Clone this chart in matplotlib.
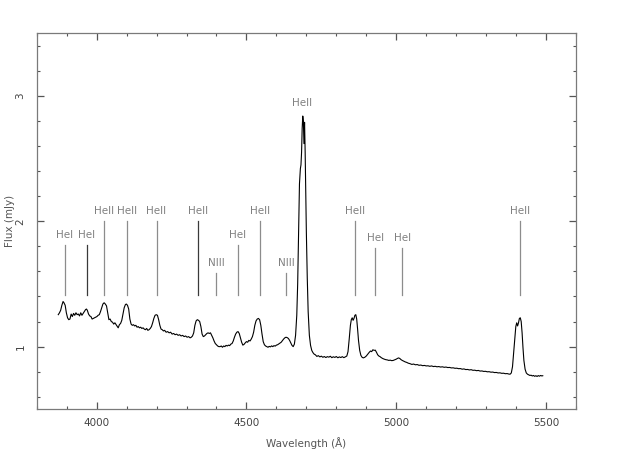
import numpy as np
import matplotlib.pyplot as plt
from matplotlib.ticker import MultipleLocator

# spectrum (wavelength in Angstrom, flux in mJy)
wave = [3872, 3876, 3880, 3884, 3888, 3891, 3895, 3899, 3903, 3907, 3911, 3915, 3919, 3923,
        3927, 3931, 3935, 3939, 3943, 3947, 3951, 3955, 3959, 3963, 3966, 3969, 3973, 3977,
        3981, 3985, 3989, 3993, 3997, 4001, 4005, 4009, 4013, 4017, 4021, 4025, 4029, 4033,
        4037, 4041, 4045, 4049, 4053, 4057, 4061, 4065, 4069, 4072, 4076, 4080, 4084, 4088,
        4092, 4096, 4099, 4103, 4107, 4111, 4115, 4119, 4123, 4127, 4131, 4135, 4139, 4143,
        4147, 4151, 4155, 4159, 4163, 4167, 4171, 4175, 4179, 4183, 4187, 4191, 4195, 4199,
        4203, 4207, 4211, 4215, 4219, 4223, 4227, 4232, 4237, 4242, 4247, 4252, 4257, 4262,
        4267, 4272, 4277, 4282, 4287, 4292, 4297, 4302, 4307, 4312, 4316, 4320, 4324, 4328,
        4332, 4336, 4340, 4344, 4348, 4352, 4356, 4360, 4364, 4368, 4372, 4376, 4380, 4384,
        4388, 4392, 4396, 4400, 4404, 4408, 4412, 4416, 4420, 4424, 4428, 4432, 4436, 4440,
        4444, 4448, 4452, 4456, 4460, 4464, 4468, 4472, 4476, 4480, 4484, 4488, 4492, 4496,
        4500, 4504, 4508, 4512, 4516, 4520, 4524, 4528, 4532, 4536, 4540, 4544, 4548, 4552,
        4556, 4560, 4564, 4568, 4572, 4576, 4580, 4584, 4588, 4592, 4596, 4600, 4604, 4608,
        4612, 4616, 4620, 4624, 4628, 4632, 4636, 4640, 4644, 4648, 4652, 4656, 4660, 4664,
        4668, 4671, 4674, 4677, 4680, 4682, 4684, 4686, 4688, 4690, 4692, 4694, 4696, 4698,
        4700, 4703, 4706, 4710, 4714, 4718, 4722, 4726, 4730, 4735, 4740, 4745, 4750, 4755,
        4760, 4765, 4770, 4775, 4780, 4785, 4790, 4795, 4800, 4805, 4810, 4815, 4820, 4825,
        4830, 4835, 4839, 4843, 4847, 4850, 4853, 4856, 4859, 4862, 4865, 4868, 4871, 4874,
        4878, 4882, 4886, 4890, 4895, 4900, 4905, 4910, 4914, 4918, 4922, 4926, 4930, 4934,
        4938, 4942, 4946, 4950, 4955, 4960, 4965, 4970, 4975, 4980, 4985, 4990, 4995, 5000,
        5004, 5008, 5012, 5016, 5020, 5025, 5030, 5035, 5040, 5046, 5052, 5058, 5064, 5070,
        5076, 5082, 5088, 5094, 5100, 5106, 5112, 5118, 5124, 5130, 5136, 5142, 5148, 5154,
        5160, 5166, 5172, 5178, 5184, 5190, 5196, 5202, 5208, 5214, 5220, 5226, 5232, 5238,
        5244, 5250, 5256, 5262, 5268, 5274, 5280, 5286, 5292, 5298, 5304, 5310, 5316, 5322,
        5328, 5334, 5340, 5346, 5352, 5358, 5364, 5370, 5376, 5380, 5384, 5388, 5392, 5396,
        5399, 5402, 5405, 5408, 5411, 5414, 5417, 5420, 5423, 5426, 5430, 5434, 5438, 5442,
        5446, 5450, 5454, 5458, 5462, 5466, 5470, 5474, 5478, 5482, 5486, 5489]
flux = [1.255, 1.27, 1.29, 1.33, 1.36, 1.35, 1.33, 1.27, 1.23, 1.215, 1.22, 1.26, 1.24, 1.265,
        1.25, 1.27, 1.255, 1.26, 1.245, 1.27, 1.25, 1.265, 1.28, 1.295, 1.30, 1.29, 1.26, 1.245,
        1.24, 1.22, 1.225, 1.23, 1.235, 1.24, 1.25, 1.255, 1.28, 1.31, 1.34, 1.35, 1.34, 1.325,
        1.27, 1.215, 1.22, 1.20, 1.195, 1.18, 1.19, 1.175, 1.16, 1.15, 1.175, 1.185, 1.21, 1.26,
        1.31, 1.335, 1.34, 1.33, 1.30, 1.22, 1.18, 1.17, 1.175, 1.165, 1.17, 1.155, 1.16, 1.15,
        1.155, 1.145, 1.15, 1.14, 1.135, 1.145, 1.13, 1.135, 1.145, 1.16, 1.19, 1.225, 1.25, 1.255,
        1.25, 1.215, 1.17, 1.14, 1.135, 1.125, 1.13, 1.115, 1.12, 1.11, 1.115, 1.10, 1.105, 1.095,
        1.10, 1.09, 1.095, 1.085, 1.09, 1.08, 1.085, 1.075, 1.08, 1.07, 1.075, 1.085, 1.11, 1.17,
        1.205, 1.215, 1.21, 1.20, 1.16, 1.10, 1.08, 1.085, 1.095, 1.105, 1.11, 1.105, 1.11, 1.09,
        1.07, 1.045, 1.025, 1.015, 1.005, 1.0, 1.0, 1.005, 0.995, 1.005, 1.0, 1.01, 1.005, 1.012,
        1.008, 1.02, 1.025, 1.045, 1.075, 1.10, 1.115, 1.12, 1.105, 1.07, 1.035, 1.012, 1.018, 1.03,
        1.04, 1.035, 1.05, 1.045, 1.06, 1.08, 1.115, 1.17, 1.205, 1.22, 1.225, 1.215, 1.17, 1.10,
        1.04, 1.015, 1.005, 1.0, 0.995, 1.002, 0.998, 1.006, 1.0, 1.008, 1.004, 1.012, 1.015, 1.022,
        1.03, 1.035, 1.048, 1.06, 1.07, 1.075, 1.072, 1.065, 1.05, 1.03, 1.01, 1.0, 1.02, 1.09,
        1.25, 1.50, 1.90, 2.30, 2.42, 2.45, 2.55, 2.74, 2.84, 2.80, 2.62, 2.79, 2.55, 2.20,
        1.91, 1.55, 1.28, 1.09, 1.01, 0.97, 0.952, 0.94, 0.935, 0.922, 0.928, 0.918, 0.924, 0.915,
        0.921, 0.913, 0.92, 0.916, 0.923, 0.912, 0.919, 0.914, 0.921, 0.911, 0.918, 0.913, 0.92, 0.912,
        0.918, 0.925, 0.96, 1.06, 1.17, 1.215, 1.23, 1.21, 1.225, 1.25, 1.255, 1.22, 1.14, 1.05,
        0.97, 0.93, 0.915, 0.91, 0.915, 0.925, 0.94, 0.955, 0.965, 0.96, 0.975, 0.97, 0.972, 0.955,
        0.935, 0.925, 0.92, 0.912, 0.905, 0.9, 0.896, 0.894, 0.89, 0.892, 0.888, 0.89, 0.895, 0.90,
        0.906, 0.91, 0.905, 0.896, 0.89, 0.884, 0.878, 0.874, 0.868, 0.864, 0.858, 0.861, 0.855, 0.857,
        0.851, 0.853, 0.848, 0.85, 0.846, 0.847, 0.843, 0.846, 0.841, 0.843, 0.839, 0.841, 0.837, 0.839,
        0.835, 0.837, 0.833, 0.834, 0.83, 0.831, 0.827, 0.828, 0.824, 0.825, 0.82, 0.822, 0.817, 0.818,
        0.814, 0.816, 0.811, 0.812, 0.808, 0.81, 0.805, 0.806, 0.802, 0.803, 0.799, 0.8, 0.796, 0.797,
        0.793, 0.794, 0.79, 0.791, 0.787, 0.788, 0.784, 0.785, 0.781, 0.78, 0.79, 0.84, 0.96, 1.09,
        1.16, 1.19, 1.165, 1.19, 1.225, 1.23, 1.20, 1.11, 0.99, 0.89, 0.82, 0.79, 0.78, 0.775,
        0.77, 0.772, 0.766, 0.77, 0.763, 0.768, 0.762, 0.769, 0.764, 0.77, 0.766, 0.768]

# line identifications
line_names = ["HeI", "HeI", "HeII", "HeII", "HeII", "HeII", "NIII", "HeI", "HeII", "NIII",
              "HeII", "HeI", "HeI", "HeII"]
line_waves = [3893, 3968, 4026, 4100, 4200, 4340, 4400, 4471, 4544, 4632, 4861, 4930, 5020, 5413]
line_tops = [1.81, 1.81, 2.0, 2.0, 2.0, 2.0, 1.59, 1.81, 2.0, 1.59, 2.0, 1.79, 1.79, 2.0]
peak_name, peak_wave, peak_label_y = "HeII", 4686, 2.94

fig = plt.figure(figsize=(6.23, 4.57), dpi=100)
ax = fig.add_axes([0.0589, 0.1044, 0.8657, 0.8227])

grey = "#808080"
dark_lines = {3968, 4340}
for name, w, top in zip(line_names, line_waves, line_tops):
    c = "#3a3a3a" if w in dark_lines else "#8c8c8c"
    ax.plot([w, w], [1.41, top], color=c, lw=0.9)
    ax.text(w, top + 0.04, name, ha="center", va="bottom", fontsize=7.5, color=grey)
ax.text(peak_wave, peak_label_y, peak_name, ha="center", va="center", fontsize=7.5, color=grey)

ax.plot(wave, flux, color="black", lw=0.8)

ax.set_xlim(3800, 5600)
ax.set_ylim(0.5, 3.5)
ax.xaxis.set_major_locator(MultipleLocator(500))
ax.xaxis.set_minor_locator(MultipleLocator(100))
ax.yaxis.set_major_locator(MultipleLocator(1))
ax.yaxis.set_minor_locator(MultipleLocator(0.2))
ax.tick_params(which="both", direction="in", top=True, right=True, colors="#555555",
               labelsize=7.5, labelcolor="#444444")
ax.tick_params(which="major", length=5, width=0.9)
ax.tick_params(which="minor", length=2.5, width=0.8)
ax.tick_params(axis="x", pad=6)
ax.tick_params(axis="y", pad=8)
for lab in ax.get_yticklabels():
    lab.set_rotation(90)
    lab.set_va("center")
for s in ax.spines.values():
    s.set_color("#7a7a7a")
    s.set_linewidth(0.9)

ax.set_xlabel("Wavelength (Å)", fontsize=7.5, color="#555555", va="center")
ax.set_ylabel("Flux (mJy)", fontsize=7.5, color="#555555", va="center", ha="center")
ax.xaxis.set_label_coords(0.5, -0.09)
ax.yaxis.set_label_coords(-0.05, 0.5)

fig.savefig("out.png", dpi=100)
